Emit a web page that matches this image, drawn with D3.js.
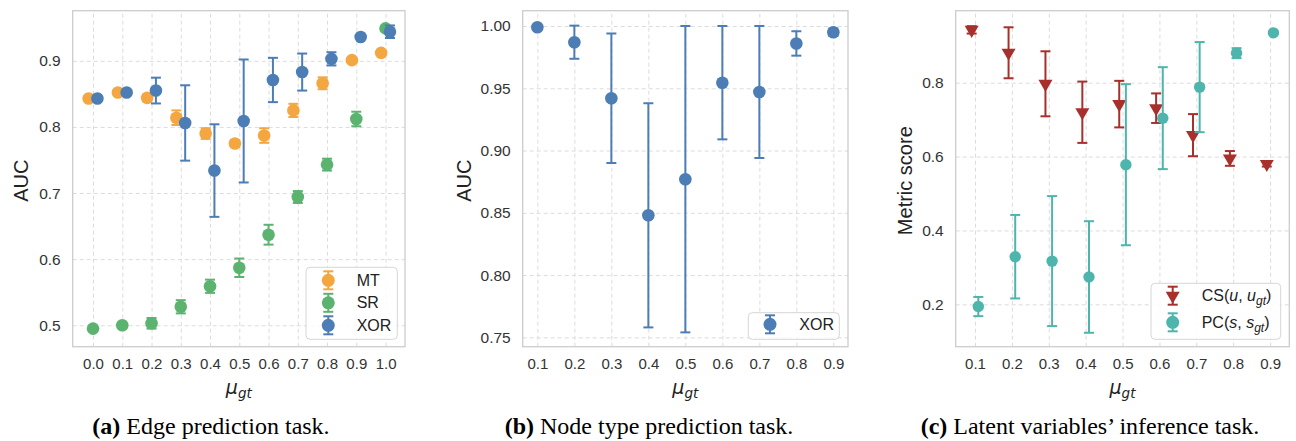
<!DOCTYPE html>
<html>
<head>
<meta charset="utf-8">
<script src="https://cdn.jsdelivr.net/npm/d3@7"></script>
<style>
  html, body { margin: 0; padding: 0; background: #fff; }
  svg { display: block; }
</style>
</head>
<body>
<div id="chart"></div>
<script>
// ---- data ----
const muA = [0.0, 0.1, 0.2, 0.3, 0.4, 0.5, 0.6, 0.7, 0.8, 0.9, 1.0];
const mtAuc = [0.843, 0.852, 0.844, 0.814, 0.790, 0.775, 0.787, 0.825, 0.866, 0.901, 0.912];
const mtErr = [0.003, 0.003, 0.005, 0.011, 0.008, 0.005, 0.011, 0.010, 0.009, 0.003, 0.003];
const srAuc = [0.495, 0.500, 0.503, 0.528, 0.559, 0.587, 0.637, 0.694, 0.743, 0.812, 0.949];
const srErr = [0.003, 0.003, 0.008, 0.010, 0.010, 0.014, 0.015, 0.009, 0.009, 0.011, 0.003];
const xorAuc = [0.843, 0.852, 0.855, 0.806, 0.734, 0.809, 0.871, 0.883, 0.903, 0.936, 0.944];
const xorErr = [0.002, 0.002, 0.0195, 0.057, 0.070, 0.093, 0.0335, 0.028, 0.010, 0.002, 0.0095];

const muB = [0.1, 0.2, 0.3, 0.4, 0.5, 0.6, 0.7, 0.8, 0.9];
const nodeAuc = [0.999, 0.987, 0.942, 0.848, 0.877, 0.9545, 0.947, 0.986, 0.995];
const nodeErr = [0.001, 0.0133, 0.052, 0.090, 0.123, 0.0455, 0.053, 0.0098, 0.003];

const muC = [0.1, 0.2, 0.3, 0.4, 0.5, 0.6, 0.7, 0.8, 0.9];
const csScore = [0.943, 0.881, 0.797, 0.720, 0.742, 0.731, 0.658, 0.595, 0.580];
const csErr = [0.010, 0.069, 0.088, 0.083, 0.063, 0.040, 0.057, 0.020, 0.007];
const pcScore = [0.194, 0.329, 0.317, 0.274, 0.578, 0.704, 0.788, 0.880, 0.935];
const pcErr = [0.026, 0.113, 0.176, 0.151, 0.218, 0.138, 0.122, 0.0135, 0.003];

const ticksA = ['0.5', '0.6', '0.7', '0.8', '0.9'];
const ticksB = ['0.75', '0.80', '0.85', '0.90', '0.95', '1.00'];
const ticksC = ['0.2', '0.4', '0.6', '0.8'];

const colors = {
  mt: '#f4a640',
  sr: '#5bb36f',
  xor: '#4c7db5',
  cs: '#a8302c',
  pc: '#4db5ab'
};

const W = 1296, H = 441;
const sans = '"Liberation Sans", Arial, sans-serif';
const serif = '"Liberation Serif", "Times New Roman", serif';

const svg = d3.select('#chart').append('svg')
  .attr('width', W)
  .attr('height', H)
  .attr('viewBox', [0, 0, W, H]);

// draw one panel frame: grid, spines, ticks, axis labels
function drawPanel(p) {
  const x = d3.scaleLinear().domain(p.xDomain).range([p.left, p.right]);
  const y = d3.scaleLinear().domain(p.yDomain).range([p.bottom, p.top]);
  const g = svg.append('g');

  // grid lines
  g.append('g')
    .attr('transform', `translate(0,${p.bottom})`)
    .call(d3.axisBottom(x).tickValues(p.xTicks).tickSize(-(p.bottom - p.top)).tickFormat(''))
    .call(s => s.select('.domain').remove())
    .selectAll('line')
    .attr('stroke', '#dcdcdc')
    .attr('stroke-width', 1)
    .attr('stroke-dasharray', '4,3');

  g.append('g')
    .attr('transform', `translate(${p.left},0)`)
    .call(d3.axisLeft(y).tickValues(p.yTicks.map(Number)).tickSize(-(p.right - p.left)).tickFormat(''))
    .call(s => s.select('.domain').remove())
    .selectAll('line')
    .attr('stroke', '#dcdcdc')
    .attr('stroke-width', 1)
    .attr('stroke-dasharray', '4,3');

  // tick labels
  g.append('g')
    .attr('transform', `translate(0,${p.bottom})`)
    .call(d3.axisBottom(x).tickValues(p.xTicks).tickSize(0).tickPadding(12).tickFormat(d3.format(p.xFormat)))
    .call(s => s.select('.domain').remove())
    .selectAll('text')
    .style('font-family', sans)
    .style('font-size', '15px')
    .attr('fill', '#333');

  g.append('g')
    .attr('transform', `translate(${p.left},0)`)
    .call(d3.axisLeft(y).tickValues(p.yTicks.map(Number)).tickSize(0).tickPadding(12)
      .tickFormat((d, i) => p.yTicks[i]))
    .call(s => s.select('.domain').remove())
    .selectAll('text')
    .style('font-family', sans)
    .style('font-size', '15.5px')
    .attr('fill', '#333');

  // spines
  g.append('rect')
    .attr('x', p.left)
    .attr('y', p.top)
    .attr('width', p.right - p.left)
    .attr('height', p.bottom - p.top)
    .attr('fill', 'none')
    .attr('stroke', '#cccccc')
    .attr('stroke-width', 1.3);

  // y label
  g.append('text')
    .attr('transform', `translate(${p.yLabelX},${(p.top + p.bottom) / 2 + 2}) rotate(-90)`)
    .attr('text-anchor', 'middle')
    .attr('dy', '0.35em')
    .style('font-family', sans)
    .style('font-size', '20px')
    .attr('fill', '#222')
    .text(p.yLabel);

  // x label: mu_gt
  const xl = g.append('text')
    .attr('x', (p.left + p.right) / 2)
    .attr('y', 394)
    .attr('text-anchor', 'middle')
    .style('font-family', '"DejaVu Sans", sans-serif')
    .style('font-style', 'italic')
    .attr('fill', '#222');
  xl.append('tspan').style('font-size', '19px').text('μ');
  xl.append('tspan').style('font-size', '13.5px').attr('dy', 4).text('gt');

  // caption
  const cap = g.append('text')
    .attr('x', p.captionX)
    .attr('y', 434)
    .attr('text-anchor', 'middle')
    .style('font-family', serif)
    .style('font-size', '24px')
    .attr('fill', '#000');
  cap.append('tspan').style('font-weight', 'bold').text(p.captionTag);
  cap.append('tspan').text(' ' + p.caption);

  return { x, y, g };
}

// draw error bars plus markers for one series
function drawSeries(panel, xs, vals, errs, offset, color, shape, r) {
  const { x, y, g } = panel;
  const rows = xs.map((v, i) => ({ x: v + offset, v: vals[i], e: errs[i] }));
  const s = g.append('g');
  const cap = 5;

  s.selectAll('.eb')
    .data(rows)
    .join('line')
    .attr('x1', d => x(d.x)).attr('x2', d => x(d.x))
    .attr('y1', d => y(d.v - d.e)).attr('y2', d => y(d.v + d.e))
    .attr('stroke', color).attr('stroke-width', 2);

  [-1, 1].forEach(sign => {
    s.selectAll('.cap' + sign)
      .data(rows)
      .join('line')
      .attr('x1', d => x(d.x) - cap).attr('x2', d => x(d.x) + cap)
      .attr('y1', d => y(d.v + sign * d.e)).attr('y2', d => y(d.v + sign * d.e))
      .attr('stroke', color).attr('stroke-width', 2);
  });

  if (shape === 'tri') {
    s.selectAll('.m')
      .data(rows)
      .join('path')
      .attr('d', d3.symbol(d3.symbolTriangle, 85))
      .attr('transform', d => `translate(${x(d.x)},${y(d.v)}) rotate(180)`)
      .attr('fill', color);
  } else {
    s.selectAll('.m')
      .data(rows)
      .join('circle')
      .attr('cx', d => x(d.x))
      .attr('cy', d => y(d.v))
      .attr('r', r)
      .attr('fill', color);
  }
}

// legend box with errorbar-style keys
function drawLegend(box, items) {
  const lg = svg.append('g');
  lg.append('rect')
    .attr('x', box.x).attr('y', box.y)
    .attr('width', box.w).attr('height', box.h)
    .attr('rx', 4)
    .attr('fill', 'rgba(255,255,255,0.85)')
    .attr('stroke', '#d6d6d6');

  items.forEach((it, i) => {
    const cy = box.y + box.first + i * box.step;
    const mx = box.x + box.mx;
    lg.append('line')
      .attr('x1', mx).attr('x2', mx).attr('y1', cy - 9).attr('y2', cy + 9)
      .attr('stroke', it.color).attr('stroke-width', 2);
    [-9, 9].forEach(o => lg.append('line')
      .attr('x1', mx - 5).attr('x2', mx + 5).attr('y1', cy + o).attr('y2', cy + o)
      .attr('stroke', it.color).attr('stroke-width', 2));
    if (it.shape === 'tri') {
      lg.append('path')
        .attr('d', d3.symbol(d3.symbolTriangle, 85))
        .attr('transform', `translate(${mx},${cy}) rotate(180)`)
        .attr('fill', it.color);
    } else {
      lg.append('circle').attr('cx', mx).attr('cy', cy).attr('r', 6.5).attr('fill', it.color);
    }
    const t = lg.append('text')
      .attr('x', box.x + box.tx)
      .attr('y', cy)
      .attr('dy', '0.35em')
      .style('font-family', sans)
      .style('font-size', '16px')
      .attr('fill', '#222');
    it.parts.forEach(pt => {
      const ts = t.append('tspan').text(pt.t);
      if (pt.i) ts.style('font-style', 'italic');
      if (pt.sub) ts.style('font-size', '12px').attr('dy', 4);
      if (pt.up) ts.attr('dy', -4);
    });
  });
}

// ---- panel (a) ----
const pa = drawPanel({
  left: 72.7, right: 405, top: 10.7, bottom: 346.7,
  xDomain: [-0.0695, 1.0665], yDomain: [0.4676, 0.9758],
  xTicks: muA, xFormat: '.1f', yTicks: ticksA,
  yLabel: 'AUC', yLabelX: 21,
  captionX: 211, captionTag: '(a)', caption: 'Edge prediction task.'
});
drawSeries(pa, muA, mtAuc, mtErr, -0.015, colors.mt, 'circle', 6.3);
drawSeries(pa, muA, srAuc, srErr, 0, colors.sr, 'circle', 6.3);
drawSeries(pa, muA, xorAuc, xorErr, 0.015, colors.xor, 'circle', 6.3);
drawLegend({ x: 306, y: 267.3, w: 91.3, h: 72, first: 13, step: 22.5, mx: 22.3, tx: 50.7 }, [
  { color: colors.mt, parts: [{ t: 'MT' }] },
  { color: colors.sr, parts: [{ t: 'SR' }] },
  { color: colors.xor, parts: [{ t: 'XOR' }] }
]);

// ---- panel (b) ----
const pb = drawPanel({
  left: 522.7, right: 848, top: 10.7, bottom: 346.7,
  xDomain: [0.0604, 0.9396], yDomain: [0.7425, 1.0123],
  xTicks: muB, xFormat: '.1f', yTicks: ticksB,
  yLabel: 'AUC', yLabelX: 464,
  captionX: 649, captionTag: '(b)', caption: 'Node type prediction task.'
});
drawSeries(pb, muB, nodeAuc, nodeErr, 0, colors.xor, 'circle', 6.3);
drawLegend({ x: 748.3, y: 312.7, w: 91, h: 26.6, first: 11.6, step: 0, mx: 21.7, tx: 51 }, [
  { color: colors.xor, parts: [{ t: 'XOR' }] }
]);

// ---- panel (c) ----
const pc = drawPanel({
  left: 955.7, right: 1289.3, top: 10.7, bottom: 346.7,
  xDomain: [0.0477, 0.952], yDomain: [0.0853, 0.9949],
  xTicks: muC, xFormat: '.1f', yTicks: ticksC,
  yLabel: 'Metric score', yLabelX: 905,
  captionX: 1090, captionTag: '(c)', caption: 'Latent variables’ inference task.'
});
drawSeries(pc, muC, csScore, csErr, -0.009, colors.cs, 'tri', 6);
drawSeries(pc, muC, pcScore, pcErr, 0.009, colors.pc, 'circle', 5.7);
drawLegend({ x: 1151, y: 283.3, w: 129.7, h: 56, first: 12.4, step: 26.6, mx: 21.7, tx: 50.7 }, [
  { color: colors.cs, shape: 'tri', parts: [{ t: 'CS(' }, { t: 'u', i: true }, { t: ', ' }, { t: 'u', i: true }, { t: 'gt', i: true, sub: true }, { t: ')', up: true }] },
  { color: colors.pc, parts: [{ t: 'PC(' }, { t: 's', i: true }, { t: ', ' }, { t: 's', i: true }, { t: 'gt', i: true, sub: true }, { t: ')', up: true }] }
]);
</script>
</body>
</html>
